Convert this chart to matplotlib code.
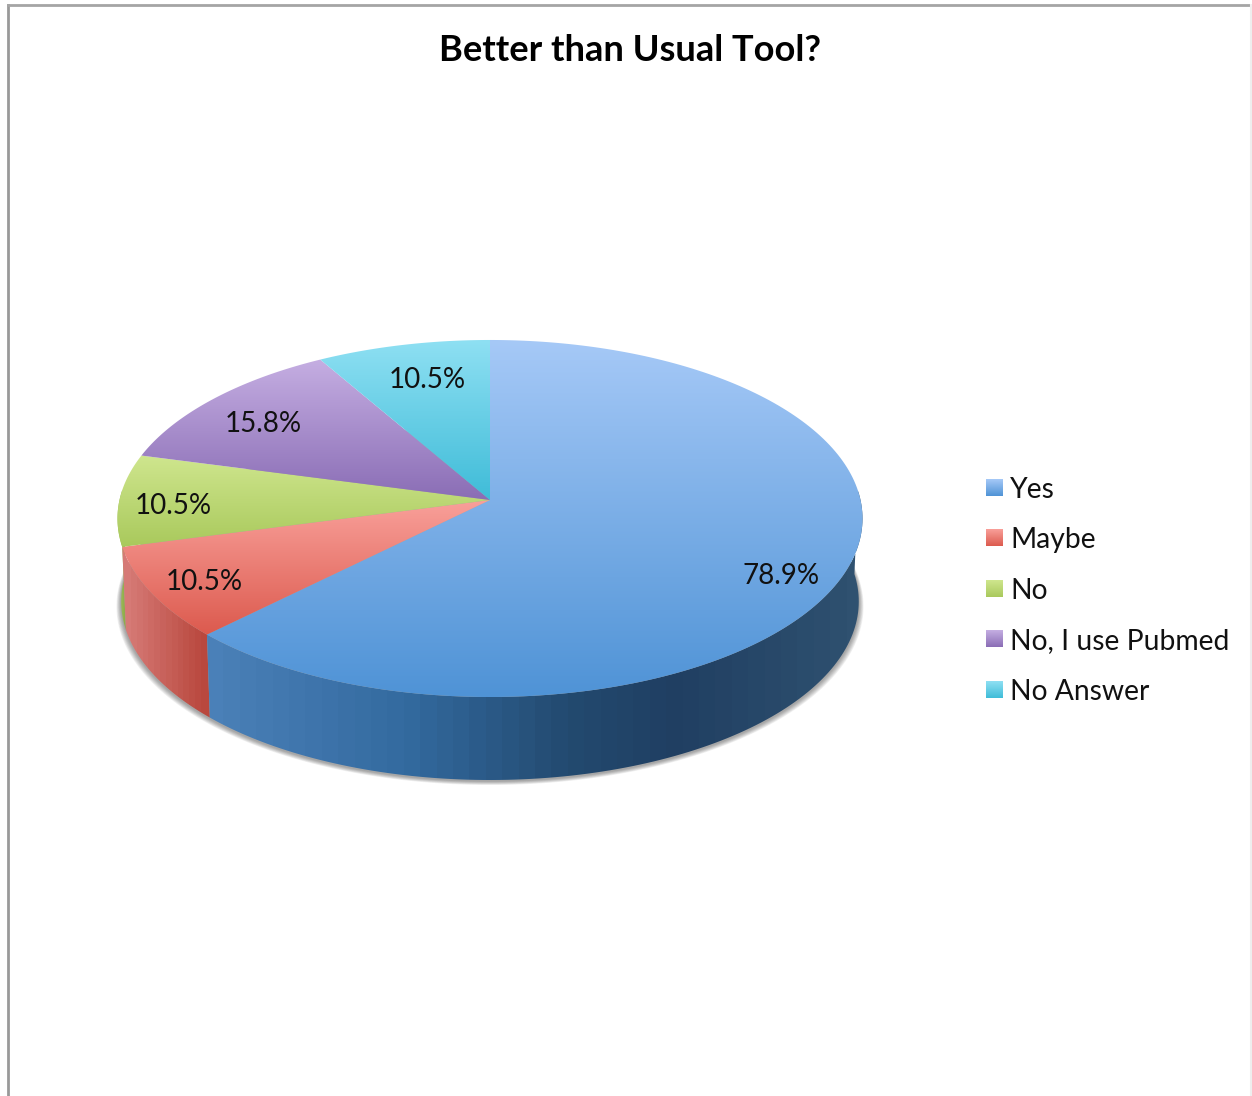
import numpy as np
import matplotlib
matplotlib.use('Agg')
import matplotlib.pyplot as plt
from matplotlib.colors import LinearSegmentedColormap
from matplotlib.patches import Polygon, Rectangle

title = 'Better than Usual Tool?'
categories = ['Yes', 'Maybe', 'No', 'No, I use Pubmed', 'No Answer']
values = [78.9, 10.5, 10.5, 15.8, 10.5]
top_light = ['#a6c9f7', '#f9a09a', '#cfe68e', '#c5aee2', '#8fe0f3']
top_dark = ['#4f93d6', '#dc5a4e', '#a9c95c', '#8a6db5', '#3fbcd8']
wall_left = ['#4a80b8', '#d67a76', '#a8c860', '#8a6db5', '#3fbcd8']
wall_right = ['#2a4e73', '#b9483e', '#8aa848', '#6a5090', '#30a0b8']
label_pos = [(781, 574), (204, 581), (173, 504), (263, 423), (427, 378)]

plt.rcParams['font.family'] = ['Lato', 'DejaVu Sans']

W, H = 1252, 1096
fig = plt.figure(figsize=(W / 100, H / 100), dpi=100)
ax = fig.add_axes([0, 0, 1, 1])
ax.set_xlim(0, W)
ax.set_ylim(H, 0)
ax.axis('off')

# pie centre and the perspective of the tilted disc
cx, cy = 490, 500
ax_x, ax_y, k = 370.5, 176.6, 0.1036
depth = 83
rim = 0.99  # bottom rim is a little narrower than the top


def project(theta):
    x = np.cos(theta)
    y = np.sin(theta)
    d = 1 + k * y
    return cx + ax_x * x / d, cy - ax_y * y / d


def gradient(clip, c1, c2, extent, vertical=True, n=256, zorder=2):
    cmap = LinearSegmentedColormap.from_list('g', [c1, c2], N=n)
    g = np.linspace(0, 1, n)
    g = g.reshape(-1, 1) if vertical else g.reshape(1, -1)
    im = ax.imshow(g, cmap=cmap, extent=extent, aspect='auto',
                   origin='upper', interpolation='bilinear', zorder=zorder)
    im.set_clip_path(clip)
    return im


# slice angles, clockwise from twelve o'clock
fracs = np.array(values) / sum(values)
edges = np.pi / 2 - 2 * np.pi * np.concatenate([[0], np.cumsum(fracs)])

# soft shadow below the disc
t = np.linspace(0, 2 * np.pi, 300)
sx, sy = project(t)
for i in range(8, 0, -1):
    scale = rim + 0.0016 * i
    ax.fill(cx + (sx - cx) * scale, cy + (sy - cy) + depth + 1 + i * 0.5,
            color='#444444', alpha=0.075, lw=0, zorder=1)

# side wall
for i in [2, 1, 0]:
    a = np.linspace(edges[i], edges[i + 1], 200)
    # only the part facing the viewer is kept
    keep = np.sin(a) < 0.06
    a = a[keep]
    if len(a) < 2:
        continue
    x, y = project(a)
    xb = cx + (x - cx) * rim
    verts = np.vstack([np.column_stack([x, y]),
                       np.column_stack([xb[::-1], y[::-1] + depth])])
    poly = Polygon(verts, closed=True, transform=ax.transData)
    left = min(x.min(), xb.min())
    right = max(x.max(), xb.max())
    if i == 0:
        stops = [(0, '#4a80b8'), (0.3, '#336a9f'), (0.55, '#234a70'),
                 (0.72, '#203f62'), (1, '#2f5170')]
        cmap = LinearSegmentedColormap.from_list('wall', stops, N=40)
        g = np.linspace(0, 1, 40).reshape(1, -1)
        im = ax.imshow(g, cmap=cmap, extent=(left, right, H, 0),
                       aspect='auto', interpolation='nearest', zorder=2)
        im.set_clip_path(poly)
    else:
        gradient(poly, wall_left[i], wall_right[i], (left, right, H, 0),
                 vertical=False, n=14)

# top face of the slices
for i in range(len(values)):
    a = np.linspace(edges[i], edges[i + 1], 200)
    x, y = project(a)
    verts = np.vstack([[cx, cy], np.column_stack([x, y])])
    poly = Polygon(verts, closed=True, transform=ax.transData)
    gradient(poly, top_light[i], top_dark[i],
             (x.min() - 1, max(x.max(), cx) + 1, max(y.max(), cy), min(y.min(), cy)),
             zorder=3)

ax.set_xlim(0, W)
ax.set_ylim(H, 0)

# data labels
for (lx, ly), v in zip(label_pos, values):
    ax.text(lx, ly + 1.5, f'{v}%', ha='center', va='center', fontsize=20,
            color='#111111', zorder=5)

ax.text(630, 50.5, title, ha='center', va='center', fontsize=26.1,
        fontweight='bold', color='black', zorder=5)

# legend
leg_y = [487, 537, 588, 638, 689]
for i, name in enumerate(categories):
    y0 = leg_y[i] - 8
    clip = Rectangle((986, y0), 17, 17, transform=ax.transData)
    gradient(clip, top_light[i], top_dark[i], (986, 1003, y0 + 17, y0), zorder=4)
    ax.text(1010, leg_y[i] + 3, name, ha='left', va='center', fontsize=20.3,
            color='#111111', zorder=5)

# chart frame
ax.plot([7.5, 7.5], [H, 4.5], color='#999999', lw=2, zorder=6)
ax.plot([7.5, W], [4.5, 4.5], color='#a5a5a5', lw=2, zorder=6)
ax.plot([1251, 1251], [4.5, H], color='#eeeeee', lw=1.5, zorder=6)

fig.savefig('out.png', dpi=100)
